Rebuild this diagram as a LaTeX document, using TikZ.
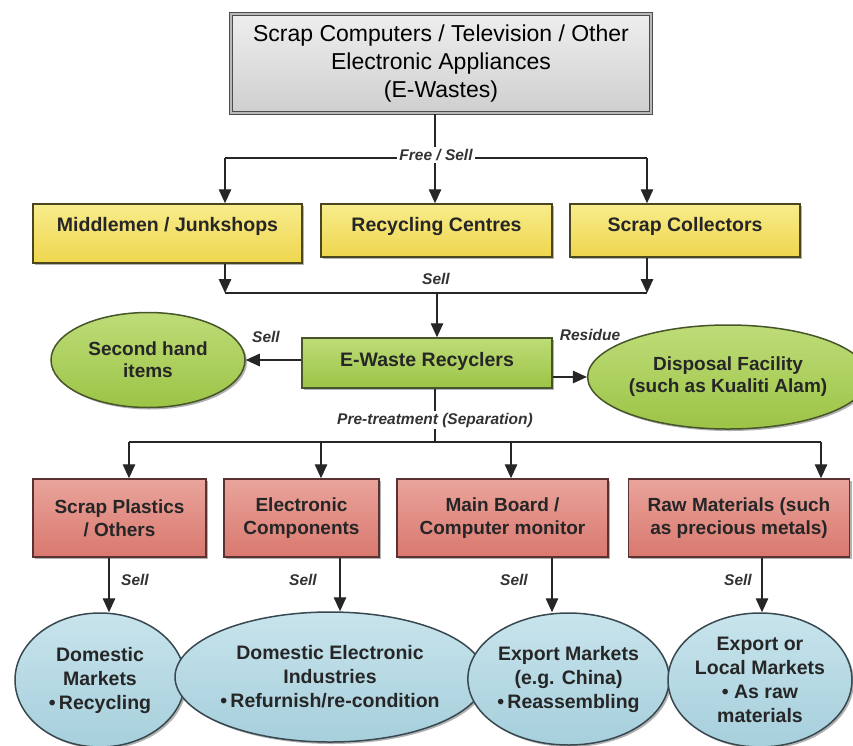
\documentclass[tikz,border=0pt]{standalone}
\usepackage{fontspec}
\setmainfont{Liberation Sans}
\usetikzlibrary{arrows.meta,shapes.geometric,shadows}
\definecolor{g1}{HTML}{EEEEEE}
\definecolor{g2}{HTML}{CFCFCF}
\definecolor{y1}{HTML}{F8EC8C}
\definecolor{y2}{HTML}{EFD64E}
\definecolor{yb}{HTML}{4A4620}
\definecolor{gr1}{HTML}{BEDC78}
\definecolor{gr2}{HTML}{9CC446}
\definecolor{grb}{HTML}{46552A}
\definecolor{r1}{HTML}{E9A49B}
\definecolor{r2}{HTML}{D9786F}
\definecolor{rb}{HTML}{5A3232}
\definecolor{b1}{HTML}{C8E4EC}
\definecolor{b2}{HTML}{A6CFDC}
\definecolor{bb}{HTML}{384850}
\begin{document}
\begin{tikzpicture}[x=1pt,y=-1pt]
\tikzset{
  conn/.style={draw=black!85, line width=1.4pt},
  arr/.style={conn, -{Triangle[length=14pt,width=12.5pt]}},
  lbl/.style={font=\fontsize{15.5}{18}\selectfont\bfseries\itshape, text=black!80, inner sep=2pt},
  shad/.style={drop shadow={shadow xshift=2pt, shadow yshift=-2pt, opacity=0.3, fill=black}},
  topbox/.style={rectangle, draw=black!70, double=gray!55, double distance=1.6pt, line width=1.1pt,
     top color=g1, bottom color=g2, align=center, inner sep=0pt,
     font=\fontsize{23}{28}\selectfont},
  ybox/.style={rectangle, draw=yb, line width=1.5pt, top color=y1, bottom color=y2, shad,
     inner sep=0pt, align=center, font=\fontsize{19.5}{23}\selectfont\bfseries, text=black!85},
  gbox/.style={rectangle, draw=grb, line width=1.5pt, top color=gr1, bottom color=gr2, shad,
     inner sep=0pt, align=center, font=\fontsize{19.5}{23}\selectfont\bfseries, text=black!85},
  gell/.style={ellipse, draw=grb, line width=1.5pt, top color=gr1, bottom color=gr2, shad,
     inner sep=0pt, align=center, font=\fontsize{19}{22}\selectfont\bfseries, text=black!85},
  rbox/.style={rectangle, draw=rb, line width=1.5pt, top color=r1, bottom color=r2, shad,
     inner sep=0pt, align=center, font=\fontsize{19}{23}\selectfont\bfseries, text=black!85},
  bell/.style={ellipse, draw=bb, line width=1.5pt, top color=b1, bottom color=b2, shad,
     inner sep=0pt, align=center, font=\fontsize{19.5}{24}\selectfont\bfseries, text=black!85},
}
\useasboundingbox (0,0) rectangle (853,745);

% top
\node[topbox, minimum width=420pt, minimum height=99pt] (top) at (441,63.5)
  {Scrap Computers / Television / Other\\Electronic Appliances\\(E-Wastes)};

% yellow
\node[ybox, minimum width=269pt, minimum height=59pt] (mj) at (167.5,233.5) {\raisebox{7pt}[\height][\depth]{Middlemen / Junkshops}};
\node[ybox, minimum width=231pt, minimum height=53pt] (rc) at (436.5,230.5) {\raisebox{4pt}[\height][\depth]{Recycling Centres}};
\node[ybox, minimum width=230pt, minimum height=53pt] (sc) at (685,230.5) {\raisebox{4pt}[\height][\depth]{Scrap Collectors}};

% green
\node[gbox, minimum width=250pt, minimum height=50pt] (ew) at (427,363) {\raisebox{2pt}[\height][\depth]{E-Waste Recyclers}};
\node[gell, minimum width=194pt, minimum height=95pt] (sh) at (148,360) {Second hand\\items};
\node[gell, minimum width=244pt, minimum height=104pt] (df) at (728,377) {Disposal Facility\\(such as Kualiti Alam)};

% red
\node[rbox, minimum width=173pt, minimum height=78pt] (sp) at (119.5,518) {Scrap Plastics\\/ Others};
\node[rbox, minimum width=155pt, minimum height=78pt] (ec) at (301.5,518) {Electronic\\Components};
\node[rbox, minimum width=211pt, minimum height=78pt] (mb) at (502.5,518) {Main Board /\\Computer monitor};
\node[rbox, minimum width=221pt, minimum height=78pt] (rm) at (739,518) {Raw Materials (such\\as precious metals)};

% blue
\node[bell, minimum width=170pt, minimum height=134pt] (dm) at (100,680) {Domestic\\Markets\\\textbullet\,Recycling};
\node[bell, minimum width=286pt, minimum height=130pt] (de) at (330,677) {Domestic Electronic\\Industries\\\textbullet\,Refurnish/re-condition};
\node[bell, minimum width=191pt, minimum height=132pt] (em) at (568.5,679) {Export Markets\\(e.g. China)\\\textbullet\,Reassembling};
\node[bell, minimum width=180pt, minimum height=134pt] (el) at (760,680) {Export or\\Local Markets\\\textbullet\ As raw\\materials};

% first distribution
\coordinate (a1) at (225,158);
\coordinate (a2) at (435,158);
\coordinate (a3) at (647,158);
\draw[conn] (top.south -| a2) -- (a2);
\draw[conn] (a1) -- (a3);
\draw[arr] (a1) -- (a1 |- mj.north);
\draw[arr] (a2) -- (a2 |- rc.north);
\draw[arr] (a3) -- (a3 |- sc.north);
\node[lbl, fill=white] (l1) at (436,155) {Free / Sell};

% second collection
\coordinate (b1) at (225,293);
\coordinate (b2) at (437,293);
\coordinate (b3) at (647,293);
\draw[arr] (b1 |- mj.south) -- (b1);
\draw[arr] (b3 |- sc.south) -- (b3);
\draw[conn] (b1) -- (b3);
\draw[arr] (b2) -- (b2 |- ew.north);
\node[lbl] (l2) at (436,279) {Sell};

% side outputs
\draw[arr] (ew.west |- sh.east) -- (sh.east);
\node[lbl] (l3) at (266,337) {Sell};
\draw[arr] (ew.east |- df.west) -- (df.west);
\node[lbl] (l4) at (590,335) {Residue};

% separation
\coordinate (c1) at (129,442);
\coordinate (c2) at (321,442);
\coordinate (c3) at (511,442);
\coordinate (c4) at (821,442);
\coordinate (cm) at (435,442);
\draw[conn] (ew.south -| cm) -- (cm);
\draw[conn] (c1) -- (c4);
\draw[arr] (c1) -- (c1 |- sp.north);
\draw[arr] (c2) -- (c2 |- ec.north);
\draw[arr] (c3) -- (c3 |- mb.north);
\draw[arr] (c4) -- (c4 |- rm.north);
\node[lbl, fill=white] (l5) at (435,420) {Pre-treatment (Separation)};

% sell to markets
\coordinate (e1) at (109,0);
\coordinate (e2) at (340,0);
\coordinate (e3) at (552,0);
\coordinate (e4) at (762,0);
\draw[arr] (sp.south -| e1) -- (e1 |- dm.north);
\draw[arr] (ec.south -| e2) -- (e2 |- de.north);
\draw[arr] (mb.south -| e3) -- (e3 |- em.north);
\draw[arr] (rm.south -| e4) -- (e4 |- el.north);
\node[lbl] (s1) at (135,580) {Sell};
\node[lbl] (s2) at (303,580) {Sell};
\node[lbl] (s3) at (514,580) {Sell};
\node[lbl] (s4) at (738,580) {Sell};
\end{tikzpicture}
\end{document}
